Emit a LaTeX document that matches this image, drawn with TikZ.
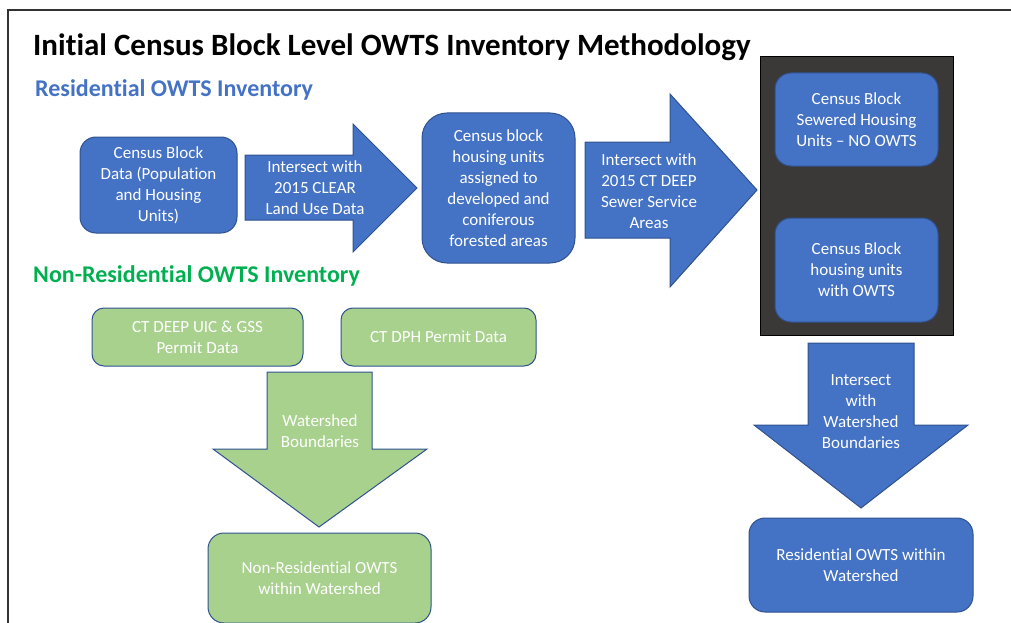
\documentclass[tikz,border=0pt]{standalone}
\usepackage{fontspec}
\setmainfont[Ligatures=NoCommon]{Carlito}
\definecolor{bfill}{HTML}{4472C4}
\definecolor{bline}{HTML}{2F528F}
\definecolor{gfill}{HTML}{A9D18E}
\definecolor{dark}{HTML}{3B3838}
\definecolor{subblue}{HTML}{4472C4}
\definecolor{subgreen}{HTML}{00B050}
\tikzset{
  box/.style={draw=bline, line width=1pt, fill=bfill, text=white, rectangle, rounded corners=16pt, align=center, inner sep=0pt, font=\fontsize{17}{21}\selectfont},
  gbox/.style={box, fill=gfill, rounded corners=12pt},
  barrow/.style={draw=bline, line width=1pt, fill=bfill},
  garrow/.style={draw=bline, line width=1pt, fill=gfill},
  lbl/.style={text=white, align=center, inner sep=0pt, font=\fontsize{17}{21}\selectfont},
}
\begin{document}
\begin{tikzpicture}[x=1pt, y=-1pt]
\useasboundingbox (0,0) rectangle (1011,623);
% frame
\draw[line width=1.3pt, draw=black!80] (8,623) -- (8,10) -- (1011,10);
% titles
\node[anchor=base west, inner sep=0pt, font=\fontsize{31}{36}\selectfont\bfseries] (title) at (33,56) {Initial Census Block Level OWTS Inventory Methodology};
\node[anchor=base west, inner sep=0pt, text=subblue, font=\fontsize{24}{28}\selectfont\bfseries] (res) at (35,97) {Residential OWTS Inventory};
\node[anchor=base west, inner sep=0pt, text=subgreen, font=\fontsize{24}{28}\selectfont\bfseries] (nres) at (33,282) {Non-Residential OWTS Inventory};
% residential row
\node[box, minimum width=157pt, minimum height=96pt] (b1) at (158.5,185) {Census Block\\Data (Population\\and Housing\\Units)};
\draw[barrow] (245,155) -- (353,155) -- (353,124) -- (417,188) -- (353,252) -- (353,220) -- (245,220) -- cycle;
\node[lbl] (a1) at (315,188) {Intersect with\\2015 CLEAR\\Land Use Data};
\node[box, rounded corners=25pt, minimum width=153pt, minimum height=150pt] (b2) at (498.5,188) {Census block\\housing units\\assigned to\\developed and\\coniferous\\forested areas};
\draw[barrow] (585,142) -- (670,142) -- (670,94) -- (757,190) -- (670,287) -- (670,238) -- (585,238) -- cycle;
\node[lbl] (a2) at (649,191) {Intersect with\\2015 CT DEEP\\Sewer Service\\Areas};
% dark group
\node[draw=black, line width=1pt, fill=dark, minimum width=193pt, minimum height=278pt, inner sep=0pt] (grp) at (856.5,196) {};
\node[box, minimum width=163pt, minimum height=93pt] (s1) at (856.5,119.5) {Census Block\\Sewered Housing\\Units -- NO OWTS};
\node[box, minimum width=163pt, minimum height=104pt] (s2) at (856.5,270) {Census Block\\housing units\\with OWTS};
% blue down arrow
\draw[barrow] (808,343) -- (914,343) -- (914,425) -- (968,425) -- (861,508) -- (754,425) -- (808,425) -- cycle;
\node[lbl] (a3) at (861,412) {Intersect\\with\\Watershed\\Boundaries};
\node[box, minimum width=224pt, minimum height=94pt] (r) at (861,565) {Residential OWTS within\\Watershed};
% non-residential
\node[gbox, minimum width=211pt, minimum height=58pt] (g1) at (197.5,337) {CT DEEP UIC \& GSS\\Permit Data};
\node[gbox, minimum width=195pt, minimum height=58pt] (g2) at (438.5,337) {CT DPH Permit Data};
\draw[garrow] (267,372) -- (372,372) -- (372,449) -- (427,449) -- (319,527) -- (213,449) -- (267,449) -- cycle;
\node[lbl] (a4) at (320,431) {Watershed\\Boundaries};
\node[gbox, rounded corners=16pt, minimum width=223pt, minimum height=90pt] (g3) at (319.5,578) {Non-Residential OWTS\\within Watershed};
\end{tikzpicture}
\end{document}
